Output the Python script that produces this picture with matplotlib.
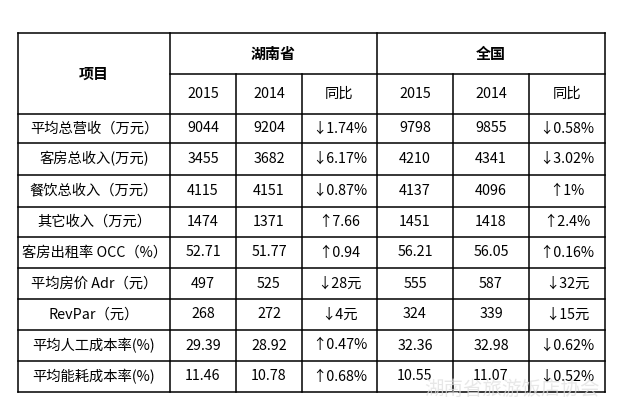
import matplotlib.pyplot as plt

# table contents
row_labels = ['平均总营收（万元）', '客房总收入(万元)', '餐饮总收入（万元）', '其它收入（万元）',
              '客房出租率 OCC（%）', '平均房价 Adr（元）', 'RevPar（元）',
              '平均人工成本率(%)', '平均能耗成本率(%)']
hn_2015 = ['9044', '3455', '4115', '1474', '52.71', '497', '268', '29.39', '11.46']
hn_2014 = ['9204', '3682', '4151', '1371', '51.77', '525', '272', '28.92', '10.78']
hn_yoy = ['↓1.74%', '↓6.17%', '↓0.87%', '↑7.66', '↑0.94', '↓28元', '↓4元', '↑0.47%', '↑0.68%']
cn_2015 = ['9798', '4210', '4137', '1451', '56.21', '555', '324', '32.36', '10.55']
cn_2014 = ['9855', '4341', '4096', '1418', '56.05', '587', '339', '32.98', '11.07']
cn_yoy = ['↓0.58%', '↓3.02%', '↑1%', '↑2.4%', '↑0.16%', '↓32元', '↓15元', '↓0.62%', '↓0.52%']
group_names = ['湖南省', '全国']
sub_headers = ['2015', '2014', '同比']

FONT = ['Noto Sans CJK SC', 'DejaVu Sans']
FS = 10.3

# layout (pixels)
col_x = [18, 170, 236, 302, 377, 453, 529, 605]
row_y = [33, 74, 114, 143, 175, 207, 237, 268, 299, 330, 361, 392]

fig = plt.figure(figsize=(6.2, 4.2), dpi=100)
ax = fig.add_axes([0, 0, 1, 1])
ax.set_xlim(0, 620)
ax.set_ylim(420, 0)
ax.axis('off')

lw = 1.1
top, bot = row_y[0], row_y[-1]
# outer and vertical lines
ax.plot([col_x[0], col_x[-1]], [top, top], color='black', lw=lw)
ax.plot([col_x[0], col_x[-1]], [bot, bot], color='black', lw=lw)
for i, x in enumerate(col_x):
    if i in (2, 3, 5, 6):
        ax.plot([x, x], [row_y[1], bot], color='black', lw=lw)
    else:
        ax.plot([x, x], [top, bot], color='black', lw=lw)
# horizontal lines
ax.plot([col_x[1], col_x[-1]], [row_y[1], row_y[1]], color='black', lw=lw)
for y in row_y[2:-1]:
    ax.plot([col_x[0], col_x[-1]], [y, y], color='black', lw=lw)

# headers
ax.text((col_x[0] + col_x[1]) / 2, (row_y[0] + row_y[2]) / 2, '项目', ha='center', va='center',
        fontsize=FS + 0.5, fontweight='bold', family=FONT)
for g, name in enumerate(group_names):
    x0, x1 = col_x[1 + 3 * g], col_x[4 + 3 * g]
    ax.text((x0 + x1) / 2, (row_y[0] + row_y[1]) / 2, name, ha='center', va='center',
            fontsize=FS + 0.5, fontweight='bold', family=FONT)
    for j, h in enumerate(sub_headers):
        c = 1 + 3 * g + j
        ax.text((col_x[c] + col_x[c + 1]) / 2, (row_y[1] + row_y[2]) / 2, h, ha='center', va='center',
                fontsize=FS, family=FONT)

# body
columns = [row_labels, hn_2015, hn_2014, hn_yoy, cn_2015, cn_2014, cn_yoy]
for c, col in enumerate(columns):
    for r, val in enumerate(col):
        ax.text((col_x[c] + col_x[c + 1]) / 2, (row_y[r + 2] + row_y[r + 3]) / 2, val,
                ha='center', va='center', fontsize=FS, family=FONT)

# watermark
ax.text(512, 389, '湖南省旅游饭店协会', ha='center', va='center', fontsize=14,
        color='#e0e0e0', alpha=0.75, family=FONT)

fig.savefig('out.png', dpi=100)
